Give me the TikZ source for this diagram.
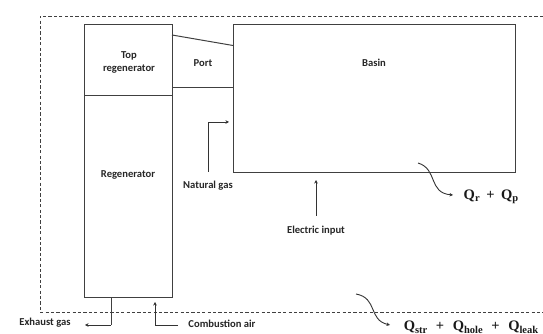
\documentclass[tikz,border=0pt]{standalone}
\usepackage{amsmath}
\usepackage[no-math]{fontspec}
\setmainfont{Carlito}
\newfontfamily\heatfont{Liberation Serif}
\newcommand{\qterm}[1]{Q\raisebox{-2.2pt}{\fontsize{10.5}{11}\selectfont #1}}
\usetikzlibrary{arrows.meta, positioning}
\tikzstyle{block} = [rectangle, inner sep=0pt, outer sep=0pt, text centered, draw=black!75, line width=1pt]
\tikzstyle{label} = [inner sep=0pt, text=black!85, font=\fontsize{10.6}{13}\selectfont\bfseries, align=center]
\tikzstyle{heat} = [inner sep=0pt, text=black!90, font=\fontsize{14.5}{16}\selectfont\heatfont\bfseries]
\tikzstyle{wall} = [draw=black!75, line width=1pt]
\tikzstyle{arrow} = [draw=black!80, line width=0.9pt, -{Stealth[length=3.5pt,width=3.5pt]}]
\tikzstyle{boundary} = [draw=black!75, line width=0.9pt, dash pattern=on 3.2pt off 2.2pt]

\begin{document}
\begin{tikzpicture}[x=1pt, y=1pt]
    \useasboundingbox (0,0) rectangle (543,334);
    % Nodes
    \node (topreg) [block, minimum width=87.5pt, minimum height=71.5pt] at (128.25,273.75) {};
    \node (regen) [block, minimum width=87.5pt, minimum height=202pt, below=0pt of topreg] {};
    \node (basin) [block, anchor=north west, minimum width=282pt, minimum height=148.5pt] at (233,309.5) {};
    \node (toptext) [label] at (129,272) {Top\\regenerator};
    \node (regentext) [label] at (128,159) {Regenerator};
    \node (porttext) [label] at (203,271) {Port};
    \node (basintext) [label] at (374,271) {Basin};
    \node (gastext) [label] at (208,148) {Natural gas};
    \node (exhausttext) [label] at (45,11) {Exhaust gas};
    \node (airtext) [label] at (222,10.5) {Combustion air};
    \node (electext) [label] at (316,103) {Electric input};
    \node (qout) [heat] at (491,137) {\qterm{r} \hspace{3pt}+\hspace{3pt} \qterm{p}};
    \node (qloss) [heat, anchor=base] at (471,3) {\qterm{str} \hspace{5pt}+\hspace{5pt} \qterm{hole} \hspace{5pt}+\hspace{5pt} \qterm{leak}};

    % Frame corners and free ends
    \coordinate (tr) at (543,318);
    \coordinate (tl) at (40,318);
    \coordinate (bl) at (40,22);
    \coordinate (br) at (543,22);
    \coordinate (porta) at (172,299);
    \coordinate (portb) at (233,288.5);
    \coordinate (portc) at (172,246);
    \coordinate (portd) at (233,246);
    \coordinate (gasa) at (208,162);
    \coordinate (gasb) at (208,212);
    \coordinate (gasc) at (229,212);
    \coordinate (exa) at (111,300);
    \coordinate (exb) at (111,9);
    \coordinate (exc) at (85,9);
    \coordinate (aira) at (178,9);
    \coordinate (airb) at (155,9);
    \coordinate (airc) at (155,32);
    \coordinate (eleca) at (316,118);
    \coordinate (elecb) at (316,154);
    \coordinate (qa) at (418,171);
    \coordinate (qb) at (453,139);
    \coordinate (qc) at (356,40);
    \coordinate (qd) at (390,9);

    % Lines
    \draw [boundary] (tr) -- (tl) -- (bl) -- (br);
    \draw [wall] (porta) -- (portb);
    \draw [wall] (portc) -- (portd);
    \draw [wall] (exa |- regen.south) -- (exb);
    \draw [arrow] (exb) -- (exc);
    \draw [arrow] (gasa) -- (gasb) -- (gasc);
    \draw [arrow] (aira) -- (airb) -- (airc);
    \draw [arrow] (eleca) -- (elecb);
    \draw [arrow] (qa) .. controls (438,165) and (428,141) .. (qb);
    \draw [arrow] (qc) .. controls (378,36) and (368,14) .. (qd);
\end{tikzpicture}
\end{document}
